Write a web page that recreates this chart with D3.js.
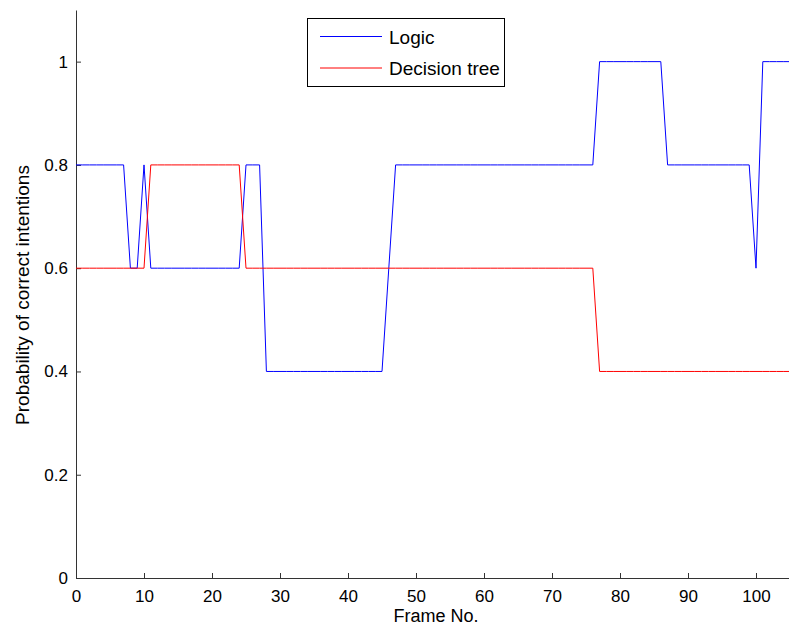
<!DOCTYPE html>
<html>
<head>
<meta charset="utf-8">
<script src="https://cdn.jsdelivr.net/npm/d3@7"></script>
<style>
  html, body { margin: 0; padding: 0; background: #fff; }
  svg { display: block; font-family: "Liberation Sans", Arial, sans-serif; }
</style>
</head>
<body>
<svg id="chart" width="789" height="627"></svg>
<script>
// Frame indices 0..105
const frames = d3.range(0, 106);

// Probability of correct intention per frame, logic-based classifier
const logicValues = [
  0.8, 0.8, 0.8, 0.8, 0.8, 0.8, 0.8, 0.8, 0.6, 0.6,   // 0-9
  0.8, 0.6, 0.6, 0.6, 0.6, 0.6, 0.6, 0.6, 0.6, 0.6,   // 10-19
  0.6, 0.6, 0.6, 0.6, 0.6, 0.8, 0.8, 0.8, 0.4, 0.4,   // 20-29
  0.4, 0.4, 0.4, 0.4, 0.4, 0.4, 0.4, 0.4, 0.4, 0.4,   // 30-39
  0.4, 0.4, 0.4, 0.4, 0.4, 0.4, 0.6, 0.8, 0.8, 0.8,   // 40-49
  0.8, 0.8, 0.8, 0.8, 0.8, 0.8, 0.8, 0.8, 0.8, 0.8,   // 50-59
  0.8, 0.8, 0.8, 0.8, 0.8, 0.8, 0.8, 0.8, 0.8, 0.8,   // 60-69
  0.8, 0.8, 0.8, 0.8, 0.8, 0.8, 0.8, 1.0, 1.0, 1.0,   // 70-79
  1.0, 1.0, 1.0, 1.0, 1.0, 1.0, 1.0, 0.8, 0.8, 0.8,   // 80-89
  0.8, 0.8, 0.8, 0.8, 0.8, 0.8, 0.8, 0.8, 0.8, 0.8,   // 90-99
  0.6, 1.0, 1.0, 1.0, 1.0, 1.0                        // 100-105
];

// Probability of correct intention per frame, decision tree classifier
const treeValues = [
  0.6, 0.6, 0.6, 0.6, 0.6, 0.6, 0.6, 0.6, 0.6, 0.6,   // 0-9
  0.6, 0.8, 0.8, 0.8, 0.8, 0.8, 0.8, 0.8, 0.8, 0.8,   // 10-19
  0.8, 0.8, 0.8, 0.8, 0.8, 0.6, 0.6, 0.6, 0.6, 0.6,   // 20-29
  0.6, 0.6, 0.6, 0.6, 0.6, 0.6, 0.6, 0.6, 0.6, 0.6,   // 30-39
  0.6, 0.6, 0.6, 0.6, 0.6, 0.6, 0.6, 0.6, 0.6, 0.6,   // 40-49
  0.6, 0.6, 0.6, 0.6, 0.6, 0.6, 0.6, 0.6, 0.6, 0.6,   // 50-59
  0.6, 0.6, 0.6, 0.6, 0.6, 0.6, 0.6, 0.6, 0.6, 0.6,   // 60-69
  0.6, 0.6, 0.6, 0.6, 0.6, 0.6, 0.6, 0.4, 0.4, 0.4,   // 70-79
  0.4, 0.4, 0.4, 0.4, 0.4, 0.4, 0.4, 0.4, 0.4, 0.4,   // 80-89
  0.4, 0.4, 0.4, 0.4, 0.4, 0.4, 0.4, 0.4, 0.4, 0.4,   // 90-99
  0.4, 0.4, 0.4, 0.4, 0.4, 0.4                        // 100-105
];

const xTicks = [0, 10, 20, 30, 40, 50, 60, 70, 80, 90, 100];
const yTicks = [0, 0.2, 0.4, 0.6, 0.8, 1];

const seriesNames = ["Logic", "Decision tree"];
const seriesColors = ["#0000ff", "#ff0000"];

const svg = d3.select("#chart");
const plotLeft = 76, plotRight = 790, plotTop = 10, plotBottom = 578;

const x = d3.scaleLinear().domain([0, 105]).range([plotLeft, plotRight]);
const y = d3.scaleLinear().domain([0, 1.1]).range([plotBottom, plotTop]);

// Axes: ticks pointing inward
const axisColor = "#333";
const xAxis = d3.axisBottom(x).tickValues(xTicks).tickSizeInner(-5).tickSizeOuter(0).tickPadding(12)
  .tickFormat(d3.format("d"));
const yAxis = d3.axisLeft(y).tickValues(yTicks).tickSizeInner(-5).tickSizeOuter(0).tickPadding(8)
  .tickFormat(d => d === 0 || d === 1 ? String(d) : d.toFixed(1));

const gx = svg.append("g").attr("transform", `translate(0,${plotBottom})`).call(xAxis);
const gy = svg.append("g").attr("transform", `translate(${plotLeft},0)`).call(yAxis);
[gx, gy].forEach(g => {
  g.select(".domain").attr("stroke", axisColor).attr("stroke-width", 1);
  g.selectAll(".tick line").attr("stroke", axisColor);
  g.selectAll(".tick text").attr("fill", "#000").style("font-size", "17px")
    .style("font-family", "'Liberation Sans', Arial, sans-serif");
});

// Series lines
const line = d3.line().x((d, i) => x(frames[i])).y(d => y(d));
[logicValues, treeValues].forEach((vals, k) => {
  svg.append("path")
    .datum(vals)
    .attr("fill", "none")
    .attr("stroke", seriesColors[k])
    .attr("stroke-width", 1)
    .attr("d", line);
});

// Axis titles
svg.append("text")
  .attr("x", 436)
  .attr("y", 622)
  .attr("text-anchor", "middle")
  .style("font-size", "18px")
  .text("Frame No.");

svg.append("text")
  .attr("transform", `translate(29,295) rotate(-90)`)
  .attr("text-anchor", "middle")
  .style("font-size", "19px")
  .text("Probability of correct intentions");

// Legend
const legend = svg.append("g");
legend.append("rect")
  .attr("x", 307.5).attr("y", 18.5).attr("width", 197).attr("height", 68)
  .attr("fill", "#fff").attr("stroke", "#000").attr("stroke-width", 1);
seriesNames.forEach((name, k) => {
  const ly = 36.5 + k * 31.5;
  legend.append("line")
    .attr("x1", 320).attr("x2", 382).attr("y1", ly).attr("y2", ly)
    .attr("stroke", seriesColors[k]).attr("stroke-width", 1);
  legend.append("text")
    .attr("x", 389).attr("y", ly + 7)
    .style("font-size", "19px")
    .text(name);
});
</script>
</body>
</html>
